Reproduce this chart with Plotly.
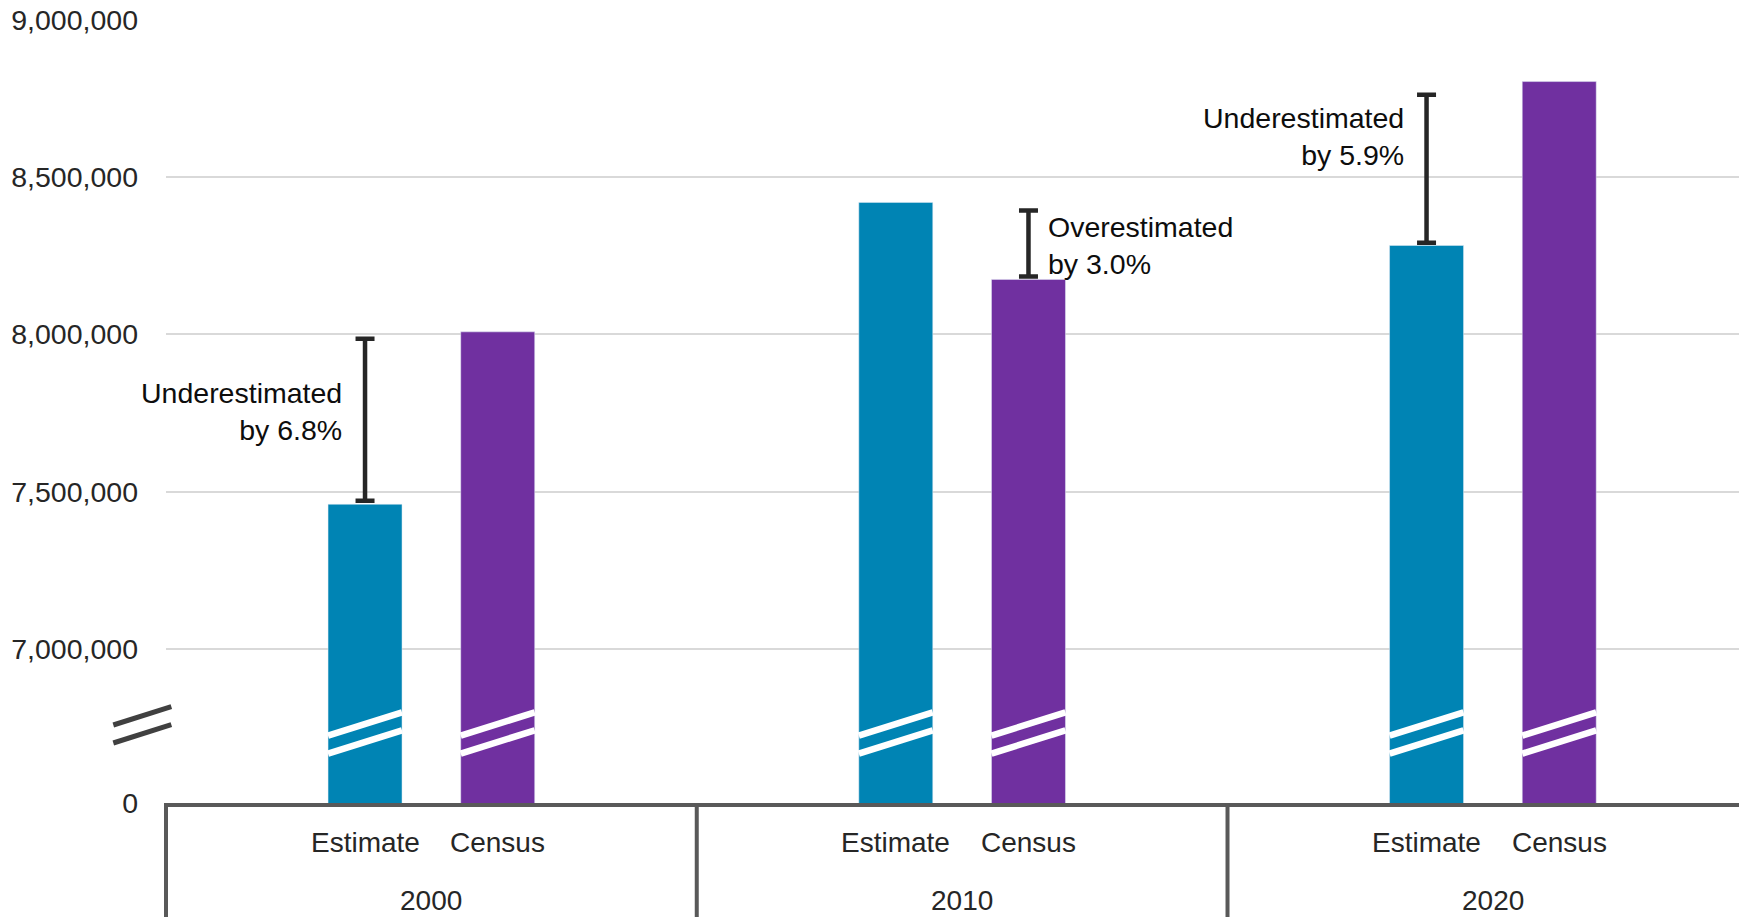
import plotly.graph_objects as go

# ---------------- data ----------------
years = ["2000", "2010", "2020"]
estimate = [7460000, 8420000, 8283000]
census = [8008278, 8175133, 8804190]
series_labels = ["Estimate", "Census"]
notes = ["Underestimated<br>by 6.8%", "Overestimated<br>by 3.0%", "Underestimated<br>by 5.9%"]
note_y = [7754000, 8284000, 8628000]
bracket_lo = [7471000, 8184000, 8292000]
bracket_hi = [7986000, 8394000, 8762000]
y_tick_vals = [7000000, 7500000, 8000000, 8500000, 9000000]
y_tick_text = ["7,000,000", "7,500,000", "8,000,000", "8,500,000", "9,000,000"]
axis_floor = 6510000          # value shown as "0" at the broken axis
axis_top = 9000000

# ---------------- style ----------------
W, H = 1739, 917
ML, MR, MT, MB = 166, 0, 20, 114
PW, PH = W - ML - MR, H - MT - MB
X_MIN, X_MAX = -0.5, 2.4637
OFF = 0.125
BW = 0.1394
C_EST = "#0084B4"
C_CEN = "#7030A0"
FONT = "Liberation Sans, Arial, sans-serif"

pos = list(range(len(years)))

fig = go.Figure()
fig.add_trace(go.Bar(x=pos, y=estimate, name=series_labels[0], marker_color=C_EST,
                     width=BW, offset=-OFF - BW / 2, showlegend=False))
fig.add_trace(go.Bar(x=pos, y=census, name=series_labels[1], marker_color=C_CEN,
                     width=BW, offset=OFF - BW / 2, showlegend=False))

# difference brackets
bx = [p - OFF if e < c else p + OFF for p, e, c in zip(pos, estimate, census)]
fig.add_trace(go.Scatter(
    x=bx, y=bracket_lo, mode="markers",
    marker=dict(size=1, color="rgba(0,0,0,0)"), showlegend=False, hoverinfo="skip",
    error_y=dict(type="data", symmetric=False,
                 array=[h - l for h, l in zip(bracket_hi, bracket_lo)],
                 arrayminus=[0] * len(years),
                 color="#262626", thickness=4.5, width=9.5)))

annotations = []
for p, x, e, c, t, ny in zip(pos, bx, estimate, census, notes, note_y):
    right = e > c
    annotations.append(dict(
        x=x, y=ny, xref="x", yref="y", text=t, showarrow=False,
        xanchor="left" if right else "right", align="left" if right else "right",
        yanchor="middle", xshift=18 if right else -21,
        font=dict(family=FONT, size=28.5, color="#0d0d0d")))
    # category labels
    for lab, dx in zip(series_labels, (-OFF, OFF)):
        annotations.append(dict(
            x=p + dx, y=-40 / PH, xref="x", yref="paper", text=lab, showarrow=False,
            xanchor="center", yanchor="middle",
            font=dict(family=FONT, size=28, color="#262626")))
    annotations.append(dict(
        x=p, y=-97 / PH, xref="x", yref="paper", text=years[p], showarrow=False,
        xanchor="center", yanchor="middle",
        font=dict(family=FONT, size=28, color="#262626")))

shapes = []
# group dividers under the axis
def xp(v):
    return (v - X_MIN) / (X_MAX - X_MIN)

for p in pos:
    shapes.append(dict(type="line", xref="paper", yref="paper",
                       x0=xp(p - 0.5), x1=xp(p - 0.5), y0=0, y1=-MB / PH,
                       line=dict(color="#595959", width=4)))

# white break stripes across every bar
half_rise = 11.7 / PH
for p in pos:
    for dx in (-OFF, OFF):
        for yc in (724, 742):
            ypc = (H - MB - yc) / PH
            shapes.append(dict(type="line", xref="x", yref="paper",
                               x0=p + dx - BW / 2, x1=p + dx + BW / 2,
                               y0=ypc - half_rise, y1=ypc + half_rise,
                               line=dict(color="white", width=6.5), layer="above"))

# axis break marks
for yl, yr in ((725, 706.7), (743, 724.7)):
    shapes.append(dict(type="line", xref="paper", yref="paper",
                       x0=(113.3 - ML) / PW, x1=(171.3 - ML) / PW,
                       y0=(H - MB - yl) / PH, y1=(H - MB - yr) / PH,
                       line=dict(color="#404040", width=5)))

fig.update_layout(
    width=W, height=H,
    margin=dict(l=ML, r=MR, t=MT, b=MB),
    paper_bgcolor="white", plot_bgcolor="white",
    barmode="overlay",
    annotations=annotations, shapes=shapes,
    xaxis=dict(range=[X_MIN, X_MAX], showticklabels=False, showgrid=False, zeroline=False,
               showline=True, linecolor="#595959", linewidth=4, ticks=""),
    yaxis=dict(range=[axis_floor, axis_top],
               tickvals=[axis_floor] + y_tick_vals, ticktext=["0"] + y_tick_text,
               showgrid=True, gridcolor="#d9d9d9", gridwidth=2, zeroline=False,
               showline=False, ticks="", ticklabelstandoff=27,
               tickfont=dict(family=FONT, size=28.5, color="#262626")),
)

fig.write_html("out.html")
